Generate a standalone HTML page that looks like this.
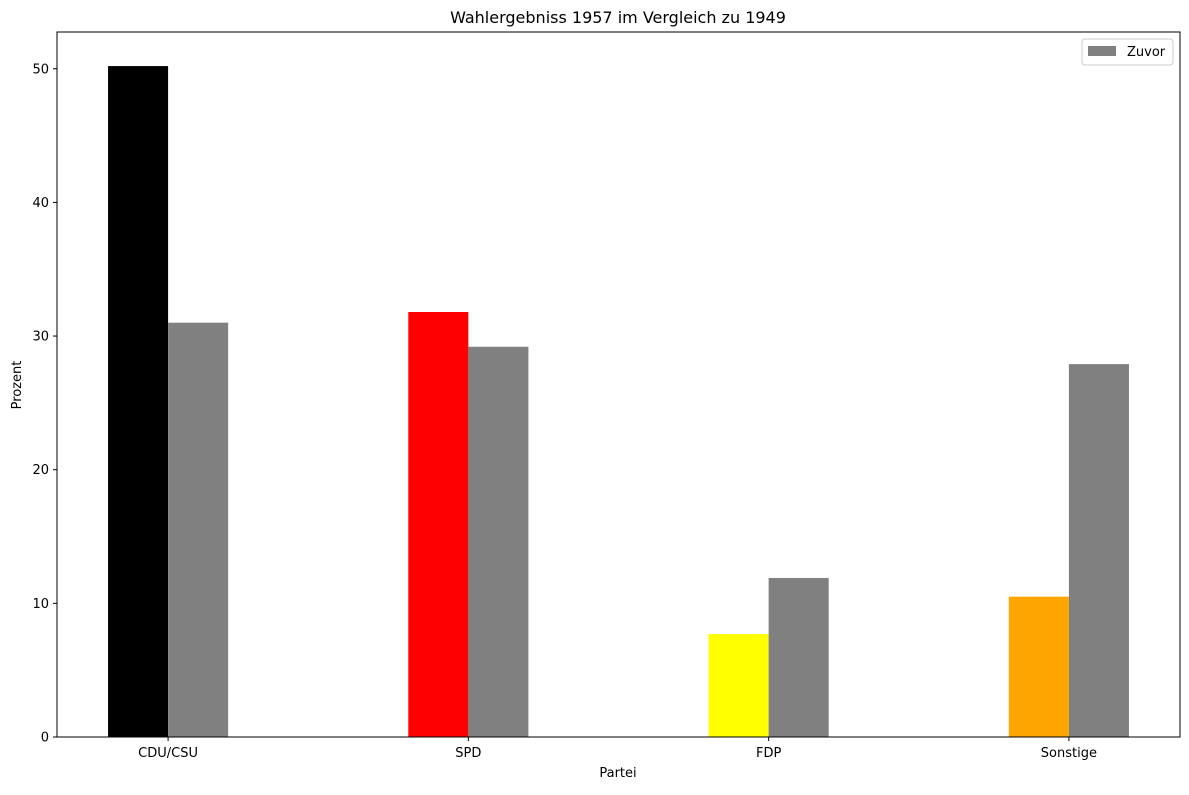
<!DOCTYPE html>
<html><head><meta charset="utf-8"><style>
body{margin:0;background:#fff;}
svg text{font-family:"DejaVu Sans","Liberation Sans",sans-serif;}
</style></head><body>
<svg id="chart" width="1189" height="790" xmlns="http://www.w3.org/2000/svg">
<rect width="1189" height="790" fill="#fff"/>
<text x="618" y="23" font-size="16" text-anchor="middle">Wahlergebniss 1957 im Vergleich zu 1949</text>
<g id="bars"></g>
<g id="axes"></g>
<g>
<rect x="1082" y="39" width="91" height="26" rx="3" fill="#fff" stroke="#ccc"/>
<rect x="1088" y="46" width="28" height="10" fill="#808080"/>
<text x="1127" y="56" font-size="13">Zuvor</text>
</g>
<text x="618" y="777" font-size="13" text-anchor="middle">Partei</text>
<text transform="translate(21,385) rotate(-90)" font-size="13" text-anchor="middle">Prozent</text>
</svg>
<script>
const categories=["CDU/CSU","SPD","FDP","Sonstige"];
const current=[50.2,31.8,7.7,10.5];
const previous=[31.0,29.2,11.9,27.9];
const currentColors=["#000000","#ff0000","#ffff00","#ffa500"];
const yTicks=[0,10,20,30,40,50];
const NS="http://www.w3.org/2000/svg";
const L=57,R=1180,T=32,B=737;
const xMin=-0.37,xMax=3.37,yMax=52.75;
const xs=v=>L+(v-xMin)/(xMax-xMin)*(R-L);
const ys=v=>B-v/yMax*(B-T);
function mk(tag,attrs,parent){const e=document.createElementNS(NS,tag);for(const k in attrs)e.setAttribute(k,attrs[k]);parent.appendChild(e);return e;}
const bars=document.getElementById('bars'),axes=document.getElementById('axes');
const w=0.2;
categories.forEach((c,i)=>{
 const b1=mk('rect',{x:xs(i-w),y:ys(current[i]),width:xs(i)-xs(i-w),height:B-ys(current[i]),fill:currentColors[i]},bars);
 
 
 const b2=mk('rect',{x:xs(i),y:ys(previous[i]),width:xs(i+w)-xs(i),height:B-ys(previous[i]),fill:'#808080'},bars);
 
 
 const tk=mk('line',{x1:xs(i),x2:xs(i),y1:B,y2:B+4,stroke:'#000'},axes);
 
 
 const t=mk('text',{x:xs(i),y:B+20,'font-size':13,'text-anchor':'middle'},axes);
 t.textContent=c;
 
 
});
yTicks.forEach(v=>{
 const tk=mk('line',{x1:L-4,x2:L,y1:ys(v),y2:ys(v),stroke:'#000'},axes);
 
 
 const t=mk('text',{x:L-8,y:ys(v)+4.5,'font-size':13,'text-anchor':'end'},axes);
 t.textContent=v;
 
 
});
const fr=mk('rect',{x:L,y:T,width:R-L,height:B-T,fill:'none',stroke:'#000'},axes);


</script>
</body></html>
